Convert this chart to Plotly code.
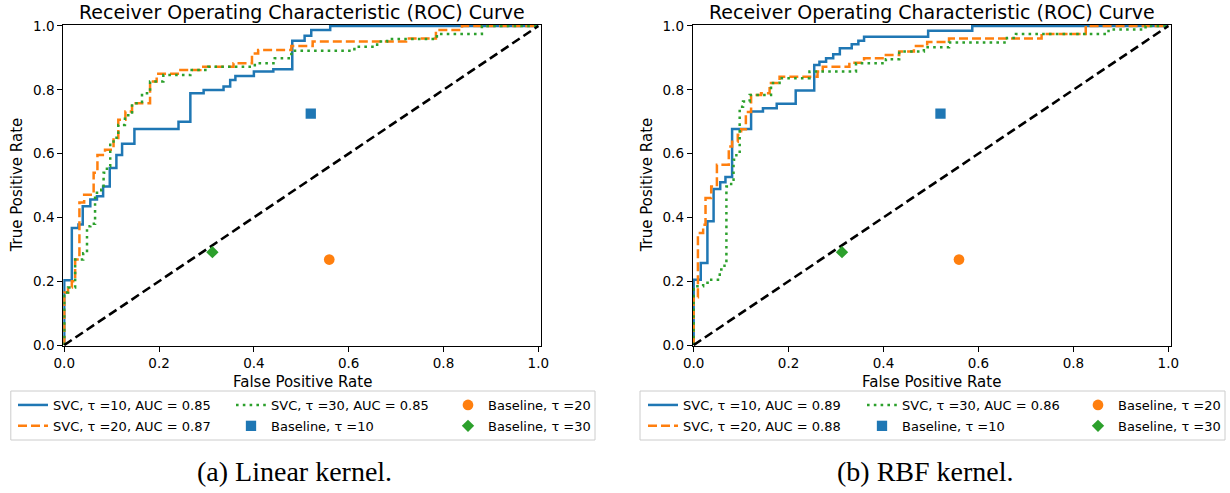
import plotly.graph_objects as go

# ---------------- data ----------------
taus = [10, 20, 30]
lin_auc = [0.85, 0.87, 0.85]
rbf_auc = [0.89, 0.88, 0.86]

# (a) Linear kernel ROC curves (step vertices)
lin_fpr_10 = [0, 0, 0.016, 0.030, 0.039, 0.055, 0.069, 0.082, 0.096, 0.110, 0.122, 0.148, 0.241, 0.266, 0.294, 0.336, 0.350, 0.361, 0.400, 0.441, 0.481, 0.507, 0.521, 0.561, 1.0]
lin_tpr_10 = [0, 0.203, 0.367, 0.378, 0.435, 0.456, 0.466, 0.497, 0.555, 0.596, 0.631, 0.677, 0.700, 0.789, 0.799, 0.810, 0.831, 0.843, 0.857, 0.864, 0.954, 0.969, 0.987, 1.0, 1.0]

lin_fpr_20 = [0, 0, 0.008, 0.016, 0.023, 0.032, 0.042, 0.062, 0.070, 0.086, 0.104, 0.114, 0.129, 0.143, 0.181, 0.195, 0.245, 0.287, 0.357, 0.396, 0.409, 0.479, 0.524, 0.721, 0.784, 0.839, 1.0]
lin_tpr_20 = [0, 0.165, 0.180, 0.200, 0.268, 0.447, 0.471, 0.540, 0.596, 0.612, 0.649, 0.706, 0.732, 0.758, 0.826, 0.850, 0.862, 0.872, 0.883, 0.914, 0.925, 0.937, 0.951, 0.961, 0.987, 1.0, 1.0]

lin_fpr_30 = [0, 0, 0.008, 0.023, 0.040, 0.048, 0.055, 0.065, 0.078, 0.083, 0.090, 0.097, 0.104, 0.114, 0.128, 0.143, 0.164, 0.181, 0.209, 0.266, 0.304, 0.402, 0.444, 0.479, 0.612, 0.660, 0.681, 0.786, 0.881, 1.0]
lin_tpr_30 = [0, 0.165, 0.180, 0.268, 0.288, 0.372, 0.380, 0.477, 0.487, 0.540, 0.560, 0.638, 0.650, 0.690, 0.720, 0.758, 0.789, 0.826, 0.846, 0.862, 0.872, 0.883, 0.899, 0.922, 0.935, 0.951, 0.959, 0.975, 1.0, 1.0]

# (b) RBF kernel ROC curves (step vertices)
rbf_fpr_10 = [0, 0, 0.015, 0.029, 0.042, 0.056, 0.067, 0.081, 0.121, 0.146, 0.175, 0.215, 0.254, 0.265, 0.279, 0.294, 0.308, 0.333, 0.347, 0.359, 0.494, 0.587, 1.0]
rbf_tpr_10 = [0, 0.205, 0.257, 0.388, 0.489, 0.510, 0.527, 0.677, 0.732, 0.742, 0.756, 0.798, 0.878, 0.888, 0.899, 0.911, 0.930, 0.943, 0.954, 0.966, 0.985, 1.0, 1.0]

rbf_fpr_20 = [0, 0, 0.009, 0.020, 0.025, 0.037, 0.049, 0.074, 0.081, 0.093, 0.100, 0.110, 0.121, 0.142, 0.160, 0.181, 0.261, 0.272, 0.328, 0.359, 0.401, 0.433, 0.464, 0.492, 0.538, 0.733, 0.826, 1.0]
rbf_tpr_20 = [0, 0.150, 0.351, 0.377, 0.461, 0.497, 0.565, 0.622, 0.637, 0.659, 0.676, 0.730, 0.784, 0.789, 0.821, 0.841, 0.857, 0.872, 0.885, 0.899, 0.909, 0.920, 0.937, 0.950, 0.961, 0.975, 1.0, 1.0]

rbf_fpr_30 = [0, 0, 0.004, 0.020, 0.037, 0.055, 0.065, 0.069, 0.079, 0.084, 0.090, 0.097, 0.104, 0.118, 0.163, 0.181, 0.244, 0.342, 0.405, 0.433, 0.485, 0.538, 0.660, 0.679, 0.874, 0.952, 1.0]
rbf_tpr_30 = [0, 0.175, 0.184, 0.195, 0.205, 0.237, 0.257, 0.497, 0.518, 0.581, 0.600, 0.747, 0.763, 0.784, 0.821, 0.836, 0.857, 0.883, 0.896, 0.920, 0.933, 0.948, 0.962, 0.975, 0.989, 1.0, 1.0]

# baseline operating points (tau = 10, 20, 30)
base_fpr = [0.520, 0.559, 0.3125]
base_tpr = [0.725, 0.268, 0.291]

chance = [0.0, 1.0]

tick_vals = [0.0, 0.2, 0.4, 0.6, 0.8, 1.0]
tick_text = ["0.0", "0.2", "0.4", "0.6", "0.8", "1.0"]

plot_title = "Receiver Operating Characteristic (ROC) Curve"
x_label = "False Positive Rate"
y_label = "True Positive Rate"
captions = ["(a) Linear kernel.", "(b) RBF kernel."]

# ---------------- style ----------------
W, H = 1230, 493
FONT = "DejaVu Sans"
colors = ["#1f77b4", "#ff7f0e", "#2ca02c"]
dashes = ["solid", "9px,4px", "2.6px,4.2px"]
symbols = ["square", "circle", "diamond"]
msizes = [10.3, 10.7, 9.5]

def px(x):
    return x / W

def py(y):
    return 1 - y / H

panels = [
    dict(fpr=[lin_fpr_10, lin_fpr_20, lin_fpr_30], tpr=[lin_tpr_10, lin_tpr_20, lin_tpr_30], auc=lin_auc,
         xl=63.3, xr=540.7, cols=[13, 231, 448], box=(10.8, 595), ax="", ylab_x=17, cap_x=294),
    dict(fpr=[rbf_fpr_10, rbf_fpr_20, rbf_fpr_30], tpr=[rbf_tpr_10, rbf_tpr_20, rbf_tpr_30], auc=rbf_auc,
         xl=692.7, xr=1170.7, cols=[643, 862, 1078], box=(640, 1225), ax="2", ylab_x=647, cap_x=925),
]
ytop, ybot = 24.7, 346.0

fig = go.Figure()
annotations = []
shapes = []
layout = dict(width=W, height=H, margin=dict(l=0, r=0, t=0, b=0, autoexpand=False),
              paper_bgcolor="white", plot_bgcolor="white",
              font=dict(family=FONT, color="black"), showlegend=True)

for pi, p in enumerate(panels):
    ax = p["ax"]
    xa, ya = "x" + ax, "y" + ax
    lg = [f"legend{'' if pi*3+k == 0 else pi*3+k+1}" for k in range(3)]
    # legend columns: col1 SVC10,SVC20 ; col2 SVC30, Base10 ; col3 Base20, Base30
    line_leg = [lg[0], lg[0], lg[1]]
    mark_leg = [lg[1], lg[2], lg[2]]
    for i in range(3):
        fig.add_trace(go.Scatter(
            x=p["fpr"][i], y=p["tpr"][i], mode="lines", xaxis=xa, yaxis=ya,
            line=dict(shape="hv", color=colors[i], width=2.5, dash=dashes[i]),
            name=f"SVC, τ ={taus[i]}, AUC = {p['auc'][i]:.2f}",
            legend=line_leg[i], legendgroup=f"p{pi}l{i}", hoverinfo="skip"))
    fig.add_trace(go.Scatter(
        x=chance, y=chance, mode="lines", xaxis=xa, yaxis=ya,
        line=dict(color="black", width=2.6, dash="9px,4.5px"), showlegend=False, hoverinfo="skip"))
    for i in range(3):
        fig.add_trace(go.Scatter(
            x=[base_fpr[i]], y=[base_tpr[i]], mode="markers", xaxis=xa, yaxis=ya,
            marker=dict(symbol=symbols[i], size=msizes[i], color=colors[i], line=dict(width=0)),
            name=f"Baseline, τ ={taus[i]}",
            legend=mark_leg[i], legendgroup=f"p{pi}m{i}", hoverinfo="skip"))

    axis_common = dict(showline=True, mirror=True, linecolor="black", linewidth=1,
                       ticks="outside", ticklen=5, tickwidth=1, tickcolor="black",
                       showgrid=False, zeroline=False, tickvals=tick_vals, ticktext=tick_text,
                       automargin=False,
                       tickfont=dict(family=FONT, size=13.5, color="black"))
    layout["xaxis" + ax] = dict(axis_common, domain=[px(p["xl"]), px(p["xr"])],
                                range=[-0.002, 1.005], anchor=ya)
    layout["yaxis" + ax] = dict(axis_common, domain=[py(ybot), py(ytop)],
                                range=[-0.003, 1.004], anchor=xa)

    cx = (p["xl"] + p["xr"]) / 2
    annotations += [
        dict(text=plot_title, x=px(cx), y=py(12), xref="paper", yref="paper", showarrow=False,
             xanchor="center", yanchor="middle", font=dict(family=FONT, size=19, color="black")),
        dict(text=x_label, x=px(cx), y=py(382), xref="paper", yref="paper", showarrow=False,
             xanchor="center", yanchor="middle", font=dict(family=FONT, size=15, color="black")),
        dict(text=y_label, x=px(p["ylab_x"]), y=py((ytop + ybot) / 2), xref="paper", yref="paper",
             showarrow=False, textangle=-90, xanchor="center", yanchor="middle",
             font=dict(family=FONT, size=15, color="black")),
        dict(text=captions[pi], x=px(p["cap_x"]), y=py(471), xref="paper", yref="paper", showarrow=False,
             xanchor="center", yanchor="middle", font=dict(family="Liberation Serif", size=28, color="black")),
    ]
    shapes.append(dict(type="rect", xref="paper", yref="paper",
                       x0=px(p["box"][0]), x1=px(p["box"][1]), y0=py(440), y1=py(391),
                       line=dict(color="#cccccc", width=1), fillcolor="white", layer="below"))
    for k in range(3):
        layout[lg[k]] = dict(x=px(p["cols"][k]), y=py(390), xanchor="left", yanchor="top",
                             orientation="v", bgcolor="rgba(0,0,0,0)", borderwidth=0,
                             tracegroupgap=1, traceorder="grouped", itemclick=False,
                             font=dict(family=FONT, size=13, color="black"))

layout["annotations"] = annotations
layout["shapes"] = shapes
fig.update_layout(**layout)
fig.write_html("out.html", config={"displayModeBar": False},
               post_script="document.body.style.margin='0px';")
